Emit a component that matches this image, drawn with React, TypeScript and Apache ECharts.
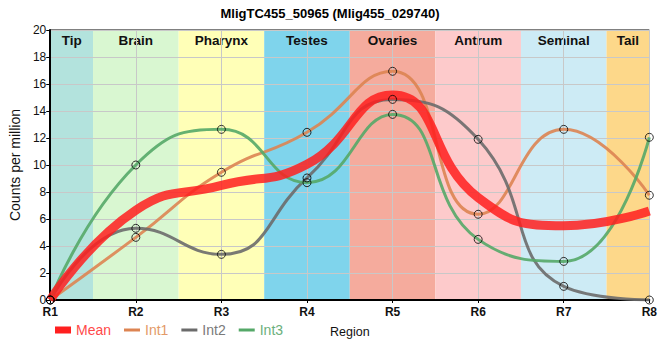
import React, { useEffect, useRef } from "react";
import * as echarts from "echarts";

const regions = ["R1", "R2", "R3", "R4", "R5", "R6", "R7", "R8"];
const bandNames = ["Tip", "Brain", "Pharynx", "Testes", "Ovaries", "Antrum", "Seminal", "Tail"];
const bandColors = ["#b3e3dd", "#d9f7d1", "#ffffb7", "#7fd4ec", "#f5ab9d", "#fdcacb", "#cdebf5", "#fdd88a"];
const int1 = [0, 4.64, 9.46, 12.42, 16.94, 6.35, 12.64, 7.76];
const int2 = [0, 5.31, 3.38, 9.04, 14.86, 11.9, 1.01, 0];
const int3 = [0, 10.0, 12.64, 8.69, 13.75, 4.49, 2.86, 12.05];
const mean = [0, 6.65, 8.49, 10.05, 15.18, 7.58, 5.5, 6.6];
const yTicks = [0, 20, 2];

const FONT = "Liberation Sans, Arial, sans-serif";

export default function App() {
  const ref = useRef<HTMLDivElement>(null);
  useEffect(() => {
    if (!ref.current) return;
    const chart = echarts.init(ref.current, null, { renderer: "svg" });
    const last = regions.length - 1;
    const bands = bandNames.map((name, i) => [
      {
        name,
        xAxis: Math.max(0, i - 0.5),
        itemStyle: { color: bandColors[i] },
      },
      { xAxis: Math.min(last, i + 0.5) },
    ]);
    const toPts = (arr: number[]) => arr.map((v, i) => [i, v]);
    const lineSeries = (name: string, data: number[], color: string, width: number, z: number, opacity: number) => ({
      type: "line",
      name,
      data: toPts(data),
      smooth: 0.5,
      symbol: "none",
      z,
      lineStyle: { color, width, opacity, cap: "butt", join: "round" },
      itemStyle: { color, borderWidth: 0 },
    });
    const c1 = "#dd8452";
    const c2 = "#6b6b6b";
    const c3 = "#55a868";
    const cm = "#ff1f1f";
    const noStroke = { borderWidth: 0, borderColor: "rgba(0,0,0,0)" };
    const lineIcon = "path://M0,0H16V3H0Z";
    chart.setOption({
      animation: false,
      backgroundColor: "#fff",
      title: {
        text: "MligTC455_50965 (Mlig455_029740)",
        left: "center",
        top: 2,
        textStyle: { fontFamily: FONT, fontSize: 13, fontWeight: "bold", color: "#000" },
      },
      grid: {
        left: 50,
        right: 10,
        top: 30,
        bottom: 60,
        show: true,
        borderColor: "#000",
        borderWidth: 1,
        backgroundColor: "transparent",
      },
      legend: {
        left: 55,
        top: 323,
        padding: 0,
        itemWidth: 16,
        itemHeight: 7,
        itemGap: 13,
        symbolKeepAspect: true,
        itemStyle: noStroke,
        textStyle: { fontFamily: FONT, fontSize: 14 },
        data: [
          { name: "Mean", icon: "rect", itemStyle: noStroke, textStyle: { color: "#ff4a4a" } },
          { name: "Int1", icon: lineIcon, itemStyle: noStroke, textStyle: { color: "#e39a68" } },
          { name: "Int2", icon: lineIcon, itemStyle: noStroke, textStyle: { color: "#7a7a7a" } },
          { name: "Int3", icon: lineIcon, itemStyle: noStroke, textStyle: { color: "#6bb07c" } },
        ],
      },
      xAxis: {
        type: "value",
        min: 0,
        max: last,
        interval: 1,
        z: 1.5,
        name: "Region",
        nameLocation: "middle",
        nameGap: 25,
        nameTextStyle: { fontFamily: FONT, fontSize: 12.5, color: "#111" },
        axisLine: { show: true, lineStyle: { color: "#000", width: 2 } },
        axisTick: { show: true, length: 3, lineStyle: { color: "#000" } },
        axisLabel: {
          fontFamily: FONT,
          fontSize: 12,
          fontWeight: "bold",
          color: "#111",
          margin: 6,
          formatter: (v: number) => regions[Math.round(v)] ?? "",
        },
        splitLine: { show: true, lineStyle: { color: "#c8c8c8", width: 1 } },
      },
      yAxis: {
        type: "value",
        min: yTicks[0],
        max: yTicks[1],
        interval: yTicks[2],
        z: 1.5,
        name: "Counts per million",
        nameLocation: "middle",
        nameGap: 20,
        nameTextStyle: { fontFamily: FONT, fontSize: 14, color: "#111" },
        axisLine: { show: true, lineStyle: { color: "#000", width: 2 } },
        axisTick: { show: true, length: 4, lineStyle: { color: "#000" } },
        axisLabel: { fontFamily: FONT, fontSize: 12, color: "#111", margin: 4 },
        splitLine: { show: true, lineStyle: { color: "#c8c8c8", width: 1 } },
      },
      series: [
        {
          type: "line",
          name: "bands",
          data: [],
          z: 1,
          silent: true,
          markArea: {
            silent: true,
            label: {
              show: true,
              position: "insideTop",
              distance: 3,
              fontFamily: FONT,
              fontSize: 13.5,
              fontWeight: "bold",
              color: "#111",
            },
            data: bands,
          },
        },
        lineSeries("Int1", int1, c1, 3, 3, 0.9),
        lineSeries("Int2", int2, c2, 3, 3, 0.9),
        lineSeries("Int3", int3, c3, 3, 3, 0.9),
        lineSeries("Mean", mean, cm, 9, 4, 0.85),
        {
          type: "scatter",
          name: "points",
          z: 5,
          symbol: "circle",
          symbolSize: 8,
          itemStyle: { color: "rgba(0,0,0,0)", borderColor: "#000", borderWidth: 1 },
          data: [...toPts(int1), ...toPts(int2), ...toPts(int3)],
        },
      ],
    });
    return () => chart.dispose();
  }, []);
  return (
    <div
      ref={ref}
      style={{ position: "absolute", left: 0, top: 0, width: 660, height: 360 }}
    />
  );
}
